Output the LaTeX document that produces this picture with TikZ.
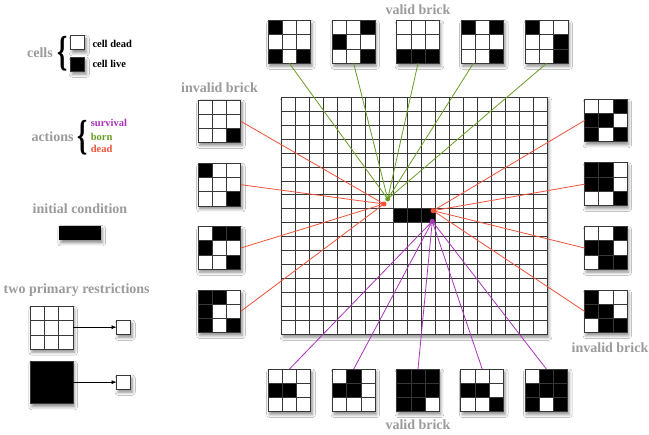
\documentclass[tikz,border=0pt]{standalone}
\usepackage{fontspec}
\setmainfont{Liberation Serif}
\usetikzlibrary{calc,shadows.blur,arrows.meta}

\definecolor{labelgray}{RGB}{155,155,155}
\definecolor{borncol}{RGB}{104,158,36}
\definecolor{deadcol}{RGB}{240,82,58}
\definecolor{survcol}{RGB}{168,52,184}
\definecolor{edgecol}{RGB}{55,55,55}

\tikzset{
  softshadow/.style={blur shadow={shadow xshift=1.5pt, shadow yshift=-3pt,
      shadow blur radius=3pt, shadow opacity=45}},
  brickbox/.style={draw=edgecol, line width=0.9pt, fill=white, minimum size=42.6pt,
      inner sep=0pt, outer sep=0pt, softshadow},
  cellbox/.style={draw=edgecol, line width=0.9pt, fill=white, minimum size=14.2pt,
      inner sep=0pt, outer sep=0pt, softshadow},
  cellline/.style={draw=edgecol, line width=0.8pt},
  caption/.style={font=\fontsize{14}{16}\selectfont\bfseries, text=labelgray, inner sep=0pt},
  smalltext/.style={font=\fontsize{10.5}{12}\selectfont\bfseries, inner sep=0pt, anchor=west},
  bracetext/.style={font=\fontsize{42}{42}\selectfont\bfseries, inner sep=0pt},
  link/.style={line width=0.8pt},
  dot/.style={circle, inner sep=0pt, minimum size=5pt},
}

% a 3x3 brick: name, centre x, centre y, nine cells row by row (1 = live)
\newcommand\drawbrick[4]{%
  \node[brickbox] (#1) at (#2,#3) {};
  \foreach \v [count=\k from 0] in {#4}{%
    \ifnum\v=1
      \pgfmathtruncatemacro\cc{mod(\k,3)}%
      \pgfmathtruncatemacro\rr{int(\k/3)}%
      \fill ($(#1.north west)+(\cc*14.2,\rr*14.2)$) rectangle ++(14.2,14.2);
    \fi
  }%
  \draw[cellline]
    ($(#1.north west)+(14.2,0)$) -- ($(#1.south west)+(14.2,0)$)
    ($(#1.north west)+(28.4,0)$) -- ($(#1.south west)+(28.4,0)$)
    ($(#1.north west)+(0,14.2)$) -- ($(#1.north east)+(0,14.2)$)
    ($(#1.north west)+(0,28.4)$) -- ($(#1.north east)+(0,28.4)$);
  \draw[edgecol, line width=0.9pt] (#1.north west) rectangle (#1.south east);
}

\begin{document}
\begin{tikzpicture}[x=1pt, y=-1pt]
\fill[white] (0,0) rectangle (649,435);
\useasboundingbox (0,0) rectangle (649,435);

% ---------- the board ----------
\node[draw=edgecol, line width=0.9pt, fill=white, inner sep=0pt, outer sep=0pt,
      minimum width=265.6pt, minimum height=237pt, softshadow] (board) at (414.5,215.8) {};
\fill ($(board.north west)+(8*13.98,8*13.94)$) rectangle ++(3*13.98,13.94);
\foreach \i in {1,...,18}
  \draw[cellline] ($(board.north west)+(\i*13.98,0)$) -- ($(board.south west)+(\i*13.98,0)$);
\foreach \j in {1,...,16}
  \draw[cellline] ($(board.north west)+(0,\j*13.94)$) -- ($(board.north east)+(0,\j*13.94)$);

% ---------- legend ----------
\node[caption] (cellslbl) at (40,53) {cells};
\node[bracetext] (cellsbrace) at (62.5,54) {\scalebox{0.62}[1]{\{}};
\node[cellbox] (deadcell) at (77.8,42.8) {};
\node[cellbox, fill=black] (livecell) at (77.8,64.2) {};
\node[smalltext] (deadlbl) at (92.3,44.3) {cell dead};
\node[smalltext] (livelbl) at (92.3,64.3) {cell live};

\node[caption] (actionslbl) at (52.5,136.5) {actions};
\node[bracetext] (actbrace) at (83,137.5) {\scalebox{0.62}[1]{\{}};
\node[smalltext, text=survcol] (survlbl) at (90.7,123.3) {survival};
\node[smalltext, text=borncol] (bornlbl) at (90.7,136.7) {born};
\node[smalltext, text=deadcol] (deadalbl) at (90.7,149.3) {dead};

\node[caption] (initlbl) at (80,208.3) {initial condition};
\node[fill=black, inner sep=0pt, minimum width=41.7pt, minimum height=14.3pt, softshadow] (initbar) at (80.2,232.8) {};

\node[caption] (restrlbl) at (76.7,290) {two primary restrictions};
\drawbrick{pa}{51.7}{327.9}{0,0,0,0,0,0,0,0,0}
\node[brickbox, fill=black] (pb) at (51.7,382.5) {};
\node[cellbox] (qa) at (123.7,327.2) {};
\node[cellbox] (qb) at (123.7,382.2) {};
\draw[line width=0.7pt, -{Latex[length=5pt,width=4pt]}] (pa.east |- qa) -- (qa.west);
\draw[line width=0.7pt, -{Latex[length=5pt,width=4pt]}] (pb.east |- qb) -- (qb.west);

% ---------- bricks ----------
\node[caption] (topcap) at (418,10) {valid brick};
\drawbrick{t1}{289.3}{42}{1,0,0,0,0,0,1,0,1}
\drawbrick{t2}{353.65}{42}{0,0,1,1,0,0,0,0,1}
\drawbrick{t3}{418}{42}{0,0,0,0,0,0,1,1,1}
\drawbrick{t4}{482.35}{42}{1,0,1,0,0,0,0,0,1}
\drawbrick{t5}{546.7}{42}{1,0,0,0,0,1,0,0,1}

\node[caption] (botcap) at (418,425) {valid brick};
\drawbrick{b1}{289.5}{390.3}{0,0,0,1,1,0,0,0,0}
\drawbrick{b2}{353.8}{390.3}{0,1,0,1,1,0,0,0,0}
\drawbrick{b3}{418}{390.3}{1,1,1,1,1,1,1,1,0}
\drawbrick{b4}{482.2}{390.3}{0,0,0,1,1,0,0,0,1}
\drawbrick{b5}{546.3}{390.3}{0,1,1,1,1,1,1,0,1}

\node[caption] (leftcap) at (219.5,88) {invalid brick};
\drawbrick{l1}{219.5}{121.3}{0,0,0,0,0,0,0,0,1}
\drawbrick{l2}{219.5}{184.7}{1,0,0,0,0,0,0,0,1}
\drawbrick{l3}{219.5}{248}{0,1,1,1,0,0,0,0,1}
\drawbrick{l4}{219.5}{311.3}{1,1,0,1,0,0,1,0,1}

\node[caption] (rightcap) at (610,348) {invalid brick};
\drawbrick{r1}{605.8}{120.5}{0,0,1,1,1,0,1,0,1}
\drawbrick{r2}{605.8}{184.2}{1,1,0,1,1,0,0,0,1}
\drawbrick{r3}{605.8}{248}{0,0,1,1,1,0,0,1,1}
\drawbrick{r4}{605.8}{311.3}{1,0,0,1,1,0,0,1,1}

% ---------- action points and their links ----------
\coordinate (gdot) at (387.7,199);
\coordinate (ldot) at (384,204);
\coordinate (rdot) at (433,210.7);
\coordinate (pdot) at (432.3,221.3);

\foreach \b in {t1,t2,t3,t5}
  \draw[link, borncol] (\b.south) -- (gdot);
\draw[link, borncol] ($(t4.south)+(-9,0)$) -- (gdot);
\foreach \b in {b1,b2,b3,b4,b5}
  \draw[link, survcol] (\b.north) -- (pdot);
\foreach \b in {l1,l2,l3,l4}
  \draw[link, deadcol] (\b.east) -- (ldot);
\foreach \b in {r1,r2,r3,r4}
  \draw[link, deadcol] (\b.west) -- (rdot);

\node[dot, fill=borncol] (gmark) at (gdot) {};
\node[dot, fill=deadcol] (lmark) at (ldot) {};
\node[dot, fill=deadcol] (rmark) at (rdot) {};
\node[dot, fill=survcol] (pmark) at (pdot) {};

\end{tikzpicture}
\end{document}
